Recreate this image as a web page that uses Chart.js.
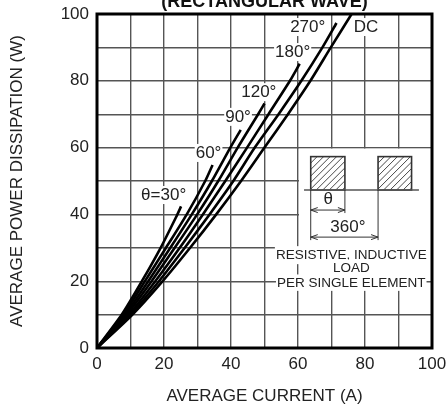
<!DOCTYPE html>
<html>
<head>
<meta charset="utf-8">
<script src="https://cdn.jsdelivr.net/npm/chart.js@4"></script>
<style>
  html, body { margin: 0; padding: 0; background: #fff; }
</style>
</head>
<body>
<canvas id="chart" width="448" height="411"></canvas>
<script>
// average current (A) / average power dissipation (W)
const curveNames = ["θ=30°", "60°", "90°", "120°", "180°", "270°", "DC"];
const i30 = [0, 7.4, 13.4, 19.0, 24.0, 25.1];
const p30 = [0, 10, 20, 30, 40, 42.4];
const i60 = [0, 7.9, 14.3, 20.6, 26.8, 32.3, 34.5];
const p60 = [0, 10, 20, 30, 40, 50, 54.8];
const i90 = [0, 8.4, 15.3, 21.9, 28.3, 34.3, 39.8, 42.9];
const p90 = [0, 10, 20, 30, 40, 50, 60, 65.3];
const i120 = [0, 8.9, 16.3, 23.2, 29.9, 36.2, 42.0, 48.1, 50.0];
const p120 = [0, 10, 20, 30, 40, 50, 60, 70, 73.2];
const i180 = [0, 9.5, 17.4, 24.7, 31.6, 38.3, 44.8, 51.2, 57.6, 60.5];
const p180 = [0, 10, 20, 30, 40, 50, 60, 70, 80, 85.1];
const i270 = [0, 10.0, 18.5, 26.2, 33.6, 40.7, 47.1, 54.2, 61.0, 67.3, 71.5];
const p270 = [0, 10, 20, 30, 40, 50, 60, 70, 80, 90, 97.3];
const iDC = [0, 10.6, 19.6, 27.8, 35.6, 43.0, 50.0, 57.0, 63.7, 69.8, 76.0];
const pDC = [0, 10, 20, 30, 40, 50, 60, 70, 80, 90, 100];
const xTickLabels = [0, 20, 40, 60, 80, 100];
const yTickLabels = [0, 20, 40, 60, 80, 100];

const currents = [i30, i60, i90, i120, i180, i270, iDC];
const powers = [p30, p60, p90, p120, p180, p270, pDC];

const FONT = "'Liberation Sans', Arial, sans-serif";
const TXT = "#222";

// where each curve name sits (data units)
const labelSpots = [[19.9, 45.8], [33.3, 58.4], [42.1, 69.2], [48.3, 76.6], [58.4, 88.6], [62.9, 96.1], [80.3, 96.1]];

function boxText(ctx, text, px, py, h) {
  const w = ctx.measureText(text).width;
  ctx.fillStyle = "#fff";
  ctx.fillRect(px - w / 2 - 1, py - h / 2, w + 2, h);
  ctx.fillStyle = TXT;
  ctx.fillText(text, px, py);
}

function arrowHead(ctx, x, y, dir) {
  ctx.beginPath();
  ctx.moveTo(x, y);
  ctx.lineTo(x + dir * 7, y - 2.5);
  ctx.moveTo(x, y);
  ctx.lineTo(x + dir * 7, y + 2.5);
  ctx.stroke();
}

const decor = {
  id: "decor",
  // drawn over the grid but under the curves
  beforeDatasetsDraw(chart) {
    const { ctx, chartArea: a, scales: { x, y } } = chart;
    ctx.save();
    // white panel of the inset
    const l = x.getPixelForValue(60) + 1, t = y.getPixelForValue(60) + 1, b = y.getPixelForValue(20) - 1;
    ctx.fillStyle = "#fff";
    ctx.fillRect(l, t, a.right - l, b - t);

    // curve names
    ctx.font = "17px " + FONT;
    ctx.textAlign = "center";
    ctx.textBaseline = "middle";
    curveNames.forEach((n, k) => {
      boxText(ctx, n, x.getPixelForValue(labelSpots[k][0]), y.getPixelForValue(labelSpots[k][1]), 18);
    });

    // waveform sketch
    const bx = [[63.8, 74.0], [83.9, 93.9]];
    const yb = y.getPixelForValue(47.3), yt = y.getPixelForValue(57.3);
    ctx.strokeStyle = "#333";
    bx.forEach(([u, v]) => {
      const x0 = x.getPixelForValue(u), x1 = x.getPixelForValue(v);
      ctx.save();
      ctx.beginPath();
      ctx.rect(x0, yt, x1 - x0, yb - yt);
      ctx.clip();
      ctx.lineWidth = 0.9;
      ctx.beginPath();
      for (let s = -40; s < 80; s += 6.5) {
        ctx.moveTo(x0 + s, yb);
        ctx.lineTo(x0 + s + (yb - yt), yt);
      }
      ctx.stroke();
      ctx.restore();
      ctx.lineWidth = 1.6;
      ctx.strokeRect(x0, yt, x1 - x0, yb - yt);
    });
    ctx.strokeStyle = "#555";
    ctx.lineWidth = 1.6;
    ctx.beginPath();
    ctx.moveTo(x.getPixelForValue(61.8), yb);
    ctx.lineTo(x.getPixelForValue(96.1), yb);
    ctx.stroke();

    const xa = x.getPixelForValue(63.8), xb = x.getPixelForValue(74.0), xc = x.getPixelForValue(83.9);
    const ya = y.getPixelForValue(41.3), yc = y.getPixelForValue(33.2);
    ctx.strokeStyle = "#333";
    ctx.lineWidth = 1;
    ctx.beginPath();
    ctx.moveTo(xa, yb); ctx.lineTo(xa, yc + 3);
    ctx.moveTo(xb, yb); ctx.lineTo(xb, ya + 3);
    ctx.moveTo(xc, yb); ctx.lineTo(xc, yc + 3);
    ctx.moveTo(xa, ya); ctx.lineTo(xb, ya);
    ctx.moveTo(xa, yc); ctx.lineTo(xc, yc);
    ctx.stroke();
    arrowHead(ctx, xa, ya, 1); arrowHead(ctx, xb, ya, -1);
    arrowHead(ctx, xa, yc, 1); arrowHead(ctx, xc, yc, -1);

    ctx.fillStyle = TXT;
    ctx.font = "17px " + FONT;
    ctx.fillText("θ", x.getPixelForValue(69.0), y.getPixelForValue(44.6));
    ctx.fillText("360°", x.getPixelForValue(74.9), y.getPixelForValue(36.2));

    ctx.font = "13.5px " + FONT;
    const cx = x.getPixelForValue(75.9);
    boxText(ctx, "RESISTIVE, INDUCTIVE", cx, y.getPixelForValue(27.8), 18);
    boxText(ctx, "LOAD", cx, y.getPixelForValue(23.8), 18);
    ctx.fillStyle = "#fff";
    ctx.fillRect(cx - 72, y.getPixelForValue(23.8) + 6, 144, 3);
    boxText(ctx, "PER SINGLE ELEMENT", cx, y.getPixelForValue(19.5), 16);
    ctx.restore();
  },
  afterDraw(chart) {
    const { ctx, chartArea: a } = chart;
    ctx.save();
    ctx.strokeStyle = "#000";
    ctx.lineWidth = 3;
    ctx.strokeRect(a.left, a.top, a.right - a.left, a.bottom - a.top);
    ctx.fillStyle = "#111";
    ctx.font = "bold 18px " + FONT;
    ctx.textAlign = "center";
    ctx.textBaseline = "alphabetic";
    ctx.fillText("(RECTANGULAR WAVE)", (a.left + a.right) / 2, 7);
    ctx.restore();
  }
};

const datasets = curveNames.map((n, k) => ({
  label: n,
  data: currents[k].map((c, j) => ({ x: c, y: powers[k][j] })),
  borderColor: "#000",
  borderWidth: 2.6,
  pointRadius: 0,
  tension: 0.25,
  fill: false
}));

new Chart(document.getElementById("chart").getContext("2d"), {
  type: "line",
  data: { datasets: datasets },
  options: {
    responsive: false,
    animation: false,
    layout: { padding: { top: 14, right: 16, left: 0, bottom: 0 } },
    plugins: { legend: { display: false }, tooltip: { enabled: false } },
    scales: {
      x: {
        type: "linear",
        min: 0,
        max: 100,
        afterFit: (s) => { s.height = 63; s.paddingLeft = 0; s.paddingRight = 0; },
        grid: { color: "#555", lineWidth: 1.4, drawTicks: false },
        border: { display: false },
        ticks: {
          stepSize: 10,
          padding: 6,
          color: TXT,
          font: { family: FONT, size: 17 },
          maxRotation: 0,
          callback: (v) => (xTickLabels.includes(v) ? String(v) : "")
        },
        title: {
          display: true,
          text: "AVERAGE CURRENT (A)",
          color: TXT,
          font: { family: FONT, size: 17 },
          padding: { top: 0, bottom: 4 }
        }
      },
      y: {
        min: 0,
        max: 100,
        afterFit: (s) => { s.width = 97; s.paddingTop = 0; s.paddingBottom = 0; },
        grid: { color: "#555", lineWidth: 1.4, drawTicks: false },
        border: { display: false },
        ticks: {
          stepSize: 10,
          padding: 8,
          color: TXT,
          font: { family: FONT, size: 17 },
          callback: (v) => (yTickLabels.includes(v) ? String(v) : "")
        },
        title: {
          display: true,
          text: "AVERAGE POWER DISSIPATION (W)",
          color: TXT,
          font: { family: FONT, size: 17 },
          padding: { top: 7, bottom: 0 }
        }
      }
    }
  },
  plugins: [decor]
});
</script>
</body>
</html>
